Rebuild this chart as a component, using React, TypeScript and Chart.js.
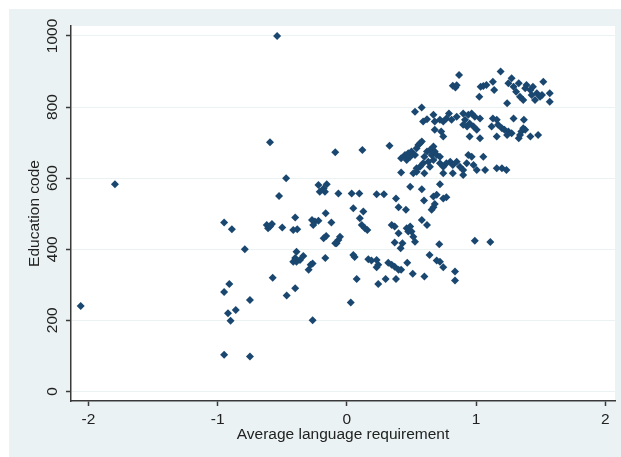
import { useEffect, useRef } from "react";
import { Chart, registerables } from "chart.js";

Chart.register(...registerables);

const xTicks = [-2, -1, 0, 1, 2];
const yTicks = [0, 200, 400, 600, 800, 1000];
const xTitle = "Average language requirement";
const yTitle = "Education code";

// [average language requirement, education code]
const sparseLeft: [number, number][] = [
  [-2.06, 240], [-1.795, 583], [-0.54, 1000],
  [-0.595, 701], [-0.09, 673], [-0.47, 600], [-0.525, 550],
  [-0.22, 581], [-0.156, 583], [-0.21, 562], [-0.17, 562], [-0.18, 571],
  [-0.066, 557], [-0.164, 501],
  [-0.95, 475], [-0.89, 456],
  [-0.62, 468], [-0.58, 471], [-0.61, 459], [-0.595, 464],
  [-0.5, 461], [-0.4, 489], [-0.415, 454], [-0.384, 456],
  [-0.27, 482], [-0.247, 478], [-0.22, 480], [-0.26, 468],
  [-0.12, 475], [-0.16, 437], [-0.18, 431],
  [-0.08, 417], [-0.066, 426], [-0.09, 417], [-0.053, 435],
  [-0.79, 400],
  [-0.39, 393], [-0.4, 375], [-0.39, 365], [-0.415, 365], [-0.363, 370], [-0.337, 381],
  [-0.265, 360], [-0.28, 356], [-0.296, 342],
  [-0.167, 375], [-0.574, 320],
  [-0.91, 302], [-0.95, 280], [-0.4, 290], [-0.466, 270], [-0.75, 257],
  [-0.86, 229], [-0.92, 220], [-0.9, 199], [-0.265, 200],
  [-0.95, 103], [-0.75, 98],
];

const middle: [number, number][] = [
  [0.12, 679], [0.33, 691],
  [0.037, 557], [0.096, 557], [0.23, 555], [0.287, 555], [0.38, 543],
  [0.4, 518], [0.457, 511],
  [0.05, 515], [0.127, 506], [0.1, 487], [0.115, 468], [0.14, 459], [0.158, 454],
  [0.347, 468], [0.37, 464], [0.4, 445], [0.463, 459], [0.49, 464], [0.475, 450], [0.5, 450], [0.514, 435], [0.527, 421],
  [0.43, 417], [0.416, 403], [0.37, 419],
  [0.05, 384], [0.06, 378],
  [0.166, 372], [0.19, 368], [0.23, 370], [0.243, 356], [0.23, 349],
  [0.32, 362], [0.347, 356], [0.37, 351], [0.4, 342], [0.42, 342], [0.467, 362],
  [0.076, 316], [0.243, 302], [0.3, 316], [0.38, 316], [0.51, 331], [0.6, 323],
  [0.03, 250],
  [0.64, 384], [0.695, 368], [0.72, 365], [0.746, 349], [0.837, 337], [0.837, 312],
  [0.715, 414], [0.99, 424], [1.11, 420],
  [0.49, 576], [0.58, 569], [0.597, 537],
  [0.58, 482], [0.62, 468],
  [0.656, 511], [0.67, 518], [0.68, 527], [0.67, 548], [0.695, 553], [0.72, 583], [0.746, 543], [0.77, 546],
];

const upperMiddle: [number, number][] = [
  [0.42, 656], [0.45, 665], [0.475, 670], [0.49, 660], [0.463, 651], [0.5, 675], [0.527, 665], [0.553, 693],
  [0.566, 698], [0.54, 684], [0.6, 660], [0.62, 675], [0.643, 679], [0.656, 665], [0.67, 651], [0.63, 646],
  [0.59, 642], [0.566, 632], [0.54, 618], [0.514, 614], [0.42, 616],
  [0.58, 703], [0.67, 689], [0.68, 675], [0.695, 665], [0.72, 660], [0.54, 628], [0.643, 632], [0.6, 614],
  [0.72, 642], [0.746, 632], [0.77, 642], [0.8, 646], [0.82, 637], [0.85, 646], [0.875, 632], [0.9, 623],
  [0.927, 642], [0.94, 665], [0.966, 660], [0.98, 637], [1.005, 623], [1.056, 660], [1.07, 623],
  [1.16, 628], [1.2, 628], [1.235, 623], [0.82, 614], [0.9, 609], [0.746, 614],
];

const upperRows: [number, number][] = [
  [0.527, 787], [0.579, 799],
  [0.59, 759], [0.62, 766], [0.67, 778], [0.68, 759], [0.72, 764], [0.746, 759], [0.77, 768], [0.79, 782],
  [0.81, 764], [0.85, 773], [0.9, 782], [0.914, 764], [0.94, 778], [0.966, 782], [0.99, 773], [1.03, 768],
  [0.95, 754], [0.98, 745], [1.005, 736], [0.93, 745], [0.9, 750],
  [1.13, 768], [1.16, 764], [1.17, 750], [1.12, 745], [1.16, 717], [0.95, 717], [1.03, 712],
  [0.68, 736], [0.73, 731], [0.746, 717],
  [0.868, 890], [0.82, 860], [0.84, 855], [0.85, 861],
  [1.19, 900],
  [1.035, 857], [1.056, 859], [1.08, 862], [1.13, 871], [1.14, 848], [1.025, 829],
];

const rightCluster: [number, number][] = [
  [1.275, 881], [1.25, 867], [1.29, 857], [1.33, 867], [1.31, 843], [1.34, 829], [1.365, 820], [1.38, 853],
  [1.39, 862], [1.42, 848], [1.44, 857], [1.43, 834], [1.456, 820], [1.47, 839], [1.495, 829], [1.52, 871],
  [1.51, 834], [1.57, 839], [1.57, 815], [1.24, 811],
  [1.29, 768], [1.37, 764],
  [1.2, 740], [1.22, 736], [1.25, 731], [1.275, 726], [1.24, 721], [1.33, 712], [1.34, 721], [1.35, 731],
  [1.365, 740], [1.38, 736], [1.42, 717], [1.48, 721],
];

const observations = [...sparseLeft, ...middle, ...upperMiddle, ...upperRows, ...rightCluster];

export default function App() {
  const ref = useRef<HTMLCanvasElement | null>(null);

  useEffect(() => {
    if (!ref.current) return;
    const font = { family: "'Liberation Sans', Arial, sans-serif", size: 15.5 };
    const textColor = "#222222";
    const axisColor = "#3a3a3a";
    const plotBg = {
      id: "plotBg",
      beforeDraw(chart: any) {
        const { ctx, chartArea } = chart;
        ctx.save();
        ctx.fillStyle = "#ffffff";
        ctx.fillRect(chartArea.left, chartArea.top, chartArea.right - chartArea.left, chartArea.bottom - chartArea.top);
        ctx.restore();
      },
    };
    const chart = new Chart(ref.current, {
      type: "scatter",
      data: {
        datasets: [
          {
            data: observations.map(([x, y]) => ({ x, y })),
            pointStyle: "rectRot",
            pointRadius: 4,
            backgroundColor: "#1a476f",
            borderColor: "#1a476f",
            borderWidth: 0,
          },
        ],
      },
      options: {
        animation: false,
        responsive: true,
        maintainAspectRatio: false,
        layout: { padding: { top: 17, right: 6, left: 0, bottom: 0 } },
        plugins: { legend: { display: false }, tooltip: { enabled: false } },
        scales: {
          x: {
            type: "linear",
            min: -2.135,
            max: 2.075,
            afterBuildTicks: (s: any) => {
              s.ticks = xTicks.map((v) => ({ value: v }));
            },
            afterFit: (s: any) => {
              s.height = 56;
            },
            ticks: {
              callback: (v: any) => String(v),
              font,
              color: textColor,
              padding: 4.5,
              maxRotation: 0,
              autoSkip: false,
            },
            grid: { drawOnChartArea: false, tickLength: 5, tickColor: axisColor, tickWidth: 1.5 },
            border: { color: axisColor, width: 1.5 },
            title: { display: true, text: xTitle, font, color: textColor, padding: { top: 0, bottom: 13 } },
          },
          y: {
            type: "linear",
            min: -27,
            max: 1028,
            afterBuildTicks: (s: any) => {
              s.ticks = yTicks.map((v) => ({ value: v }));
            },
            afterFit: (s: any) => {
              s.width = 62;
            },
            ticks: {
              callback: (v: any) => String(v),
              font,
              color: textColor,
              minRotation: 90,
              maxRotation: 90,
              crossAlign: "center",
              padding: -3.75,
              autoSkip: false,
            },
            grid: { color: "#eaf2f3", lineWidth: 1, tickLength: 5, tickColor: axisColor, tickWidth: 1.5 },
            border: { color: axisColor, width: 1.5 },
            title: { display: true, text: yTitle, font, color: textColor, padding: { top: 16.7, bottom: 0 } },
          },
        },
      },
      plugins: [plotBg],
    } as any);
    return () => chart.destroy();
  }, []);

  return (
    <div style={{ position: "absolute", left: 9, top: 9, width: 612, height: 448, background: "#eaf2f3" }}>
      <canvas ref={ref} />
    </div>
  );
}
